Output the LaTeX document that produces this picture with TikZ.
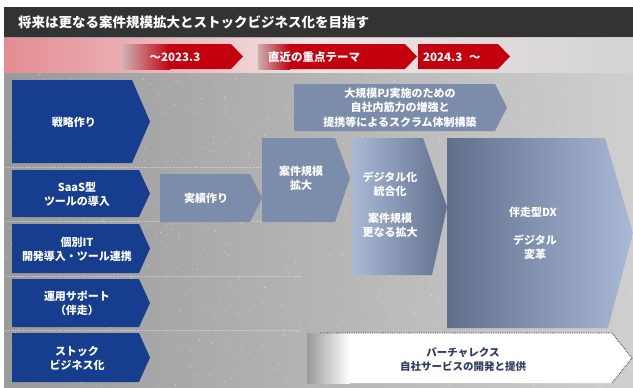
\documentclass[tikz,border=0pt]{standalone}
\usepackage{fontspec}
\setmainfont{Noto Sans CJK JP}
\usetikzlibrary{calc}
\definecolor{titlebg}{HTML}{333333}
\definecolor{bandred}{HTML}{C4000F}
\definecolor{navy}{HTML}{173E8E}
\definecolor{slate}{HTML}{7C8DAB}
\definecolor{slatelt}{HTML}{A9B9D6}
\definecolor{slatedk}{HTML}{5F6F8C}
\definecolor{bgl}{HTML}{9A9A9A}
\definecolor{bgr}{HTML}{CFCFCF}
\definecolor{darktxt}{HTML}{2E3D63}
\tikzset{
  wtxt/.style={text=white, font=\bfseries\fontsize{11}{14}\selectfont, align=center, inner sep=0},
  bandtxt/.style={text=white, font=\bfseries\fontsize{11.5}{13}\selectfont, inner sep=0},
  navybox/.style={fill=navy},
  slatebox/.style={fill=slate},
}
\begin{document}
\begin{tikzpicture}[x=1pt,y=-1pt]
\useasboundingbox (0,0) rectangle (633,388);
\fill[white] (0,0) rectangle (633,388);
% background
\shade[left color=bgl, right color=bgr] (4,37) rectangle (633,388);
\pgfmathsetseed{7}
\foreach \i in {1,...,700} {
  \fill[white, opacity=0.55] ({5+627*rnd},{72+315*rnd}) circle (0.55);
}
% title
\fill[titlebg] (4,7) rectangle (633,37);
\node[anchor=west, text=white, font=\bfseries\fontsize{13.5}{16}\selectfont, inner sep=0] (title) at (18,22) {将来は更なる案件規模拡大とストックビジネス化を目指す};
% red band
\shade[left color=bandred!45!white, right color=bgr!90!white, middle color=bgr!80!bandred!30!white] (4,38) rectangle (633,72);
\shade[left color=bandred!15!bgr, right color=bandred] (123,44) -- (170,44) -- (170,69) -- (123,69) -- cycle;
\fill[bandred] (169,44) -- (231,44) -- (243,56.5) -- (231,69) -- (169,69) -- cycle;
\shade[left color=bandred!15!bgr, right color=bandred] (258,44) -- (290,44) -- (290,69) -- (258,69) -- cycle;
\fill[bandred] (289,44) -- (405,44) -- (417,56.5) -- (405,69) -- (289,69) -- cycle;
\fill[bandred] (418,44) -- (498,44) -- (510,56.5) -- (498,69) -- (418,69) -- cycle;
\node[bandtxt] (t1) at (175,57) {～2023.3};
\node[bandtxt] (t2) at (314,57) {直近の重点テーマ};
\node[bandtxt, anchor=west] (t3) at (423,57) {2024.3\hspace{7pt}～};
% row separators
\foreach \yy in {167,221,276,330} {
  \draw[white, opacity=0.35, densely dotted] (5,\yy) -- (300,\yy);
}
% left navy chevrons
\fill[navybox] (12,80) -- (132,80) -- (150,121.5) -- (132,163) -- (12,163) -- cycle;
\fill[navybox] (12,170) -- (139,170) -- (150,193.5) -- (139,217) -- (12,217) -- cycle;
\fill[navybox] (12,224) -- (139,224) -- (150,248.5) -- (139,273) -- (12,273) -- cycle;
\fill[navybox] (12,279) -- (139,279) -- (150,303) -- (139,327) -- (12,327) -- cycle;
\fill[navybox] (12,333) -- (139,333) -- (150,357.5) -- (139,382) -- (12,382) -- cycle;
\node[wtxt] (s1) at (74,122) {戦略作り};
\node[wtxt] (s2) at (77,194) {SaaS型\\ツールの導入};
\node[wtxt] (s3) at (77,249) {個別IT\\開発導入・ツール連携};
\node[wtxt] (s4) at (77,303) {運用サポート\\（伴走）};
\node[wtxt] (s5) at (77,358) {ストック\\ビジネス化};
% slate chevrons
\fill[slatebox] (160,174) -- (250,174) -- (262,198) -- (250,222) -- (160,222) -- cycle;
\node[wtxt] (a1) at (206,198) {実績作り};
\fill[slatebox] (262,138) -- (335,138) -- (350,178) -- (335,222) -- (262,222) -- cycle;
\node[wtxt] (a2) at (301,178) {案件規模\\拡大};
\fill[slatebox] (294,84) -- (495,84) -- (507,107.5) -- (495,131) -- (294,131) -- cycle;
\node[wtxt, font=\bfseries\fontsize{11}{14.5}\selectfont] (a3) at (400,107.5) {大規模PJ実施のための\\自社内筋力の増強と\\提携等によるスクラム体制構築};
\shade[left color=slatelt, right color=slatedk] (352,138) -- (423,138) -- (447,207) -- (432,275) -- (352,275) -- cycle;
\node[wtxt] (a4) at (390,184) {デジタル化\\統合化};
\node[wtxt] (a5) at (390,225.5) {案件規模\\更なる拡大};
\shade[left color=slatedk, right color=slatelt] (447,138) -- (605,138) -- (633,233) -- (608,328) -- (447,328) -- cycle;
\node[wtxt] (a6) at (533,212) {伴走型DX};
\node[wtxt] (a7) at (535,247.5) {デジタル\\変革};
% bottom white arrow
\shade[left color=white!0!bgl, right color=white, shading angle=90] (307,333) rectangle (350,383);
\fill[white] (349,333) -- (612,333) -- (632,358) -- (612,383) -- (349,383) -- cycle;
\draw[darktxt!80!black, densely dotted, line width=0.8pt] (320,333) -- (612,333) -- (632,358) -- (612,383);
\node[text=darktxt, font=\bfseries\fontsize{10.5}{14}\selectfont, align=center, inner sep=0] (b1) at (463,360) {バーチャレクス\\自社サービスの開発と提供};
\end{tikzpicture}
\end{document}
